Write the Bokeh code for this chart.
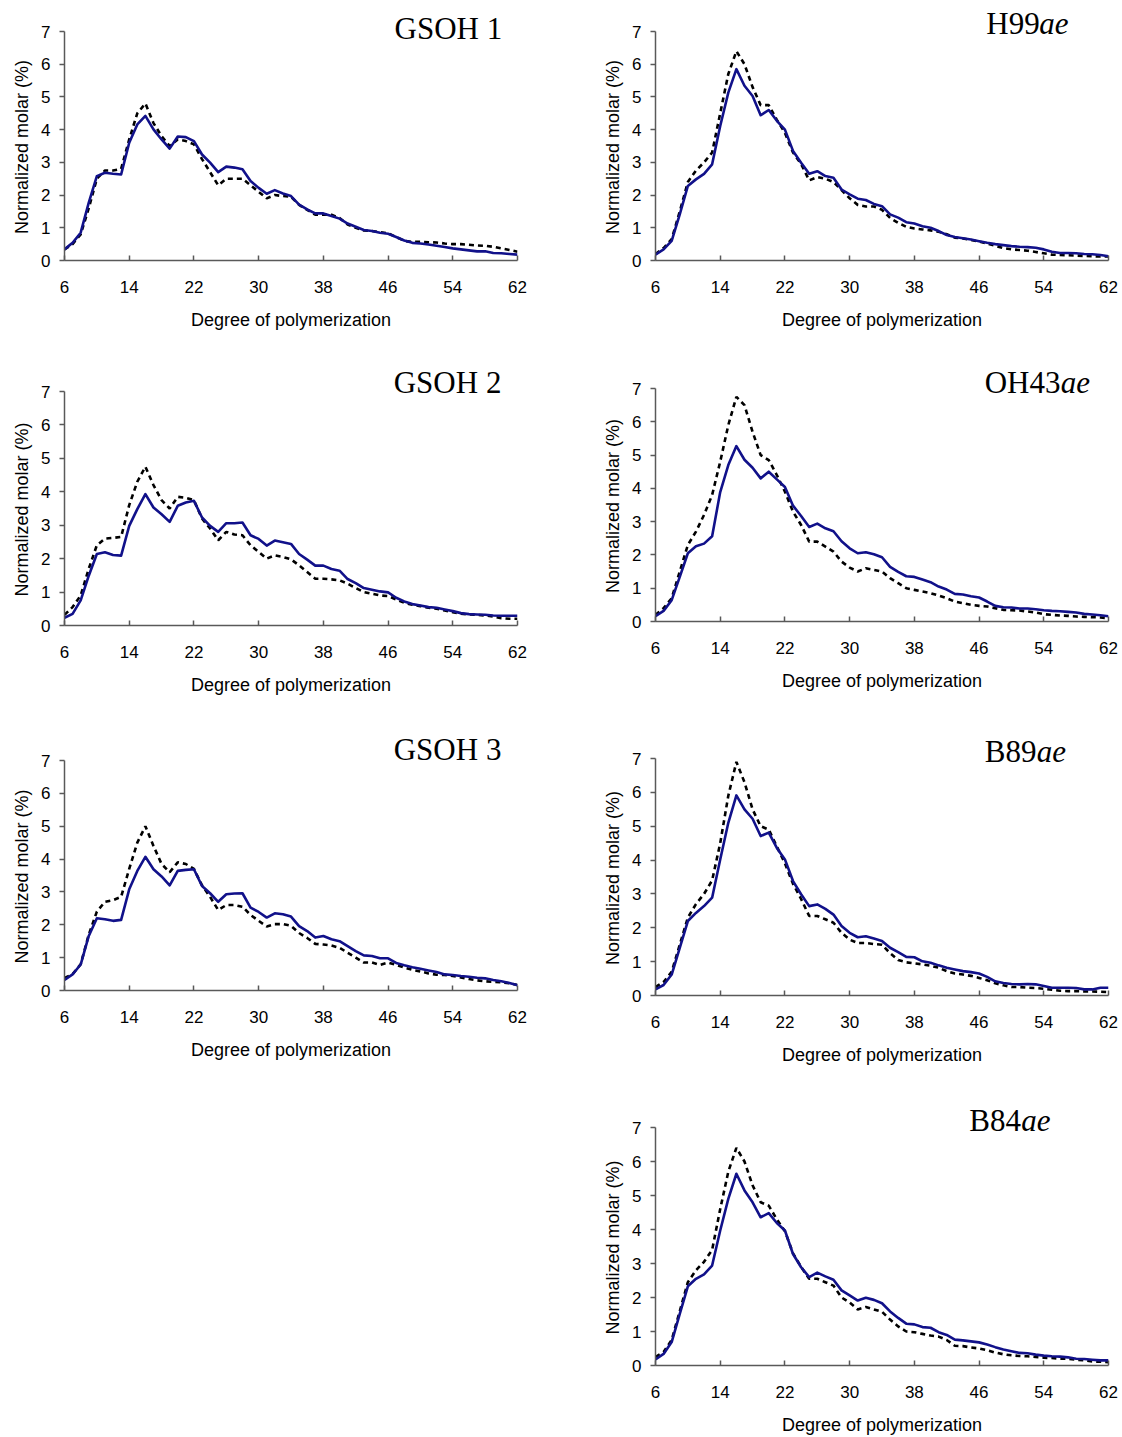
from bokeh.plotting import figure
from bokeh.layouts import column, row
from bokeh.models import Range1d, FixedTicker, Label, Spacer, Title
from bokeh.embed import file_html
from bokeh.resources import INLINE

# Degree of polymerization (DP 6 .. 62)
dp = list(range(6, 63))

# Normalized molar distribution (%) for each sample: solid = blue trace, dashed = black trace
gsoh1_solid = [0.34, 0.54, 0.85, 1.77, 2.58, 2.68, 2.65, 2.63, 3.60, 4.16, 4.42, 4.01, 3.70, 3.42, 3.79, 3.77,
               3.65, 3.24, 2.99, 2.70, 2.87, 2.84, 2.79, 2.43, 2.22, 2.04, 2.15, 2.05, 1.97, 1.71, 1.56, 1.44,
               1.44, 1.36, 1.28, 1.13, 1.03, 0.93, 0.90, 0.85, 0.82, 0.72, 0.61, 0.54, 0.52, 0.49, 0.45, 0.41,
               0.37, 0.34, 0.31, 0.28, 0.28, 0.23, 0.22, 0.20, 0.18]
gsoh1_dash = [0.34, 0.50, 0.80, 1.60, 2.50, 2.75, 2.75, 2.80, 3.70, 4.50, 4.80, 4.20, 3.80, 3.50, 3.70, 3.65,
              3.55, 3.10, 2.70, 2.30, 2.50, 2.50, 2.50, 2.30, 2.10, 1.90, 2.00, 1.97, 1.95, 1.70, 1.55, 1.40,
              1.40, 1.40, 1.30, 1.10, 1.00, 0.92, 0.90, 0.87, 0.83, 0.72, 0.60, 0.57, 0.57, 0.56, 0.55, 0.52,
              0.50, 0.50, 0.48, 0.46, 0.45, 0.42, 0.37, 0.32, 0.27]

gsoh2_solid = [0.23, 0.35, 0.75, 1.49, 2.14, 2.19, 2.11, 2.09, 2.98, 3.48, 3.93, 3.53, 3.33, 3.10, 3.58, 3.68,
               3.73, 3.23, 2.98, 2.80, 3.06, 3.06, 3.08, 2.70, 2.59, 2.39, 2.54, 2.49, 2.44, 2.14, 1.97, 1.79,
               1.79, 1.69, 1.64, 1.39, 1.27, 1.12, 1.07, 1.02, 0.99, 0.83, 0.72, 0.64, 0.60, 0.55, 0.53, 0.48,
               0.43, 0.37, 0.34, 0.33, 0.32, 0.30, 0.29, 0.29, 0.29]
gsoh2_dash = [0.32, 0.55, 0.90, 1.70, 2.40, 2.60, 2.62, 2.65, 3.60, 4.30, 4.75, 4.20, 3.75, 3.50, 3.85, 3.82,
              3.75, 3.20, 2.90, 2.55, 2.80, 2.72, 2.70, 2.40, 2.20, 2.00, 2.10, 2.05, 1.98, 1.80, 1.60, 1.40,
              1.40, 1.38, 1.35, 1.25, 1.12, 1.00, 0.95, 0.90, 0.88, 0.78, 0.68, 0.62, 0.58, 0.53, 0.50, 0.45,
              0.40, 0.35, 0.33, 0.32, 0.30, 0.27, 0.22, 0.20, 0.20]

gsoh3_solid = [0.32, 0.49, 0.79, 1.66, 2.20, 2.17, 2.12, 2.15, 3.08, 3.64, 4.07, 3.69, 3.47, 3.20, 3.64, 3.67,
               3.69, 3.18, 2.96, 2.70, 2.93, 2.95, 2.96, 2.52, 2.39, 2.22, 2.35, 2.32, 2.25, 1.96, 1.81, 1.61,
               1.66, 1.56, 1.50, 1.35, 1.20, 1.07, 1.05, 0.98, 0.98, 0.84, 0.77, 0.71, 0.66, 0.61, 0.56, 0.49,
               0.47, 0.44, 0.42, 0.39, 0.37, 0.32, 0.28, 0.23, 0.16]
gsoh3_dash = [0.38, 0.50, 0.80, 1.70, 2.40, 2.70, 2.75, 2.85, 3.70, 4.50, 5.00, 4.40, 3.85, 3.60, 3.90, 3.85,
              3.70, 3.20, 2.85, 2.45, 2.60, 2.60, 2.55, 2.30, 2.12, 1.95, 2.02, 2.02, 1.97, 1.75, 1.60, 1.42,
              1.40, 1.37, 1.30, 1.15, 1.00, 0.85, 0.85, 0.78, 0.85, 0.78, 0.70, 0.63, 0.58, 0.52, 0.48, 0.47,
              0.44, 0.40, 0.35, 0.31, 0.28, 0.26, 0.25, 0.22, 0.17]

h99_solid = [0.18, 0.34, 0.60, 1.41, 2.28, 2.48, 2.65, 2.94, 4.11, 5.13, 5.85, 5.34, 5.03, 4.44, 4.60, 4.27,
             4.00, 3.35, 2.99, 2.65, 2.73, 2.58, 2.53, 2.17, 2.02, 1.89, 1.85, 1.73, 1.66, 1.41, 1.31, 1.17,
             1.13, 1.05, 1.00, 0.90, 0.78, 0.72, 0.68, 0.64, 0.59, 0.54, 0.50, 0.47, 0.44, 0.42, 0.41, 0.39,
             0.34, 0.27, 0.23, 0.23, 0.22, 0.20, 0.19, 0.17, 0.13]
h99_dash = [0.20, 0.38, 0.65, 1.50, 2.40, 2.75, 3.00, 3.30, 4.50, 5.70, 6.40, 6.00, 5.30, 4.75, 4.75, 4.30,
            3.90, 3.30, 2.95, 2.45, 2.55, 2.50, 2.40, 2.15, 1.90, 1.70, 1.65, 1.65, 1.55, 1.30, 1.15, 1.03,
            0.98, 0.95, 0.92, 0.88, 0.80, 0.70, 0.67, 0.63, 0.58, 0.52, 0.45, 0.38, 0.34, 0.32, 0.30, 0.26,
            0.22, 0.18, 0.17, 0.16, 0.15, 0.14, 0.13, 0.12, 0.12]

oh43_solid = [0.16, 0.32, 0.64, 1.34, 2.05, 2.26, 2.34, 2.56, 3.89, 4.70, 5.27, 4.86, 4.62, 4.30, 4.50, 4.27,
              4.04, 3.48, 3.17, 2.84, 2.94, 2.80, 2.71, 2.41, 2.20, 2.05, 2.08, 2.02, 1.93, 1.64, 1.49, 1.36,
              1.34, 1.26, 1.18, 1.05, 0.96, 0.83, 0.81, 0.76, 0.72, 0.60, 0.47, 0.43, 0.42, 0.39, 0.39, 0.37,
              0.34, 0.32, 0.31, 0.29, 0.27, 0.23, 0.21, 0.19, 0.16]
oh43_dash = [0.20, 0.40, 0.70, 1.50, 2.30, 2.70, 3.20, 3.80, 4.80, 5.90, 6.75, 6.50, 5.70, 5.00, 4.85, 4.40,
             3.90, 3.30, 2.90, 2.40, 2.40, 2.25, 2.10, 1.80, 1.62, 1.50, 1.60, 1.55, 1.50, 1.30, 1.15, 1.00,
             0.95, 0.90, 0.85, 0.78, 0.70, 0.60, 0.55, 0.50, 0.47, 0.45, 0.40, 0.35, 0.34, 0.33, 0.30, 0.27,
             0.22, 0.20, 0.18, 0.17, 0.15, 0.14, 0.13, 0.12, 0.10]

b89_solid = [0.18, 0.31, 0.62, 1.41, 2.20, 2.44, 2.64, 2.89, 4.02, 5.10, 5.91, 5.50, 5.22, 4.71, 4.81, 4.36,
             4.02, 3.38, 2.99, 2.64, 2.69, 2.56, 2.39, 2.05, 1.85, 1.72, 1.75, 1.68, 1.61, 1.41, 1.28, 1.14,
             1.13, 1.01, 0.97, 0.89, 0.82, 0.77, 0.72, 0.69, 0.65, 0.55, 0.42, 0.37, 0.34, 0.33, 0.34, 0.33,
             0.28, 0.23, 0.23, 0.23, 0.22, 0.18, 0.18, 0.23, 0.23]
b89_dash = [0.25, 0.40, 0.70, 1.50, 2.30, 2.70, 3.00, 3.40, 4.50, 5.90, 6.90, 6.30, 5.50, 5.00, 4.90, 4.40,
            3.90, 3.30, 2.85, 2.35, 2.35, 2.25, 2.15, 1.85, 1.65, 1.55, 1.55, 1.52, 1.50, 1.25, 1.05, 0.98,
            0.95, 0.92, 0.88, 0.82, 0.72, 0.65, 0.62, 0.58, 0.52, 0.45, 0.36, 0.30, 0.25, 0.25, 0.23, 0.22,
            0.20, 0.17, 0.14, 0.13, 0.13, 0.12, 0.12, 0.11, 0.10]

b84_solid = [0.18, 0.34, 0.69, 1.52, 2.33, 2.55, 2.68, 2.94, 3.97, 4.90, 5.64, 5.15, 4.80, 4.36, 4.48, 4.19,
             3.97, 3.28, 2.89, 2.60, 2.73, 2.62, 2.52, 2.21, 2.06, 1.91, 1.99, 1.93, 1.83, 1.59, 1.40, 1.23,
             1.21, 1.13, 1.11, 0.98, 0.90, 0.76, 0.74, 0.71, 0.68, 0.62, 0.54, 0.47, 0.42, 0.37, 0.36, 0.32,
             0.29, 0.27, 0.26, 0.24, 0.20, 0.19, 0.17, 0.15, 0.15]
b84_dash = [0.25, 0.40, 0.75, 1.60, 2.45, 2.80, 3.05, 3.40, 4.60, 5.70, 6.40, 6.00, 5.30, 4.80, 4.70, 4.30,
            3.95, 3.30, 2.90, 2.55, 2.55, 2.45, 2.35, 2.00, 1.85, 1.65, 1.72, 1.65, 1.58, 1.35, 1.15, 1.00,
            0.98, 0.93, 0.88, 0.85, 0.75, 0.58, 0.57, 0.53, 0.50, 0.45, 0.38, 0.33, 0.30, 0.28, 0.27, 0.25,
            0.23, 0.22, 0.20, 0.20, 0.17, 0.15, 0.12, 0.11, 0.10]

x_ticks = [6, 14, 22, 30, 38, 46, 54, 62]
y_ticks = [0, 1, 2, 3, 4, 5, 6, 7]
Y_MAX = 7

BLUE = "#11118a"
AXIS = "#595959"
SANS = "Liberation Sans"
SERIF = "Liberation Serif"
TOP_PAD = 2
Y_LABEL = "Normalized molar (%)"
Y_LABEL_LEN = 176  # rendered length of the y label at 18px, in pixels


def panel(solid, dash, name, suffix, title_x, title_y, suffix_dx,
          left, top, frame_h, bottom, right):
    # The frame reaches up to the top of the figure so the sample name can sit
    # above the 7 % tick; the y axis line itself stops at 7.
    extra = top - TOP_PAD
    full_h = frame_h + extra
    y_end = Y_MAX * full_h / frame_h
    p = figure(frame_width=453, frame_height=full_h,
               min_border_left=left, min_border_right=right,
               min_border_top=TOP_PAD, min_border_bottom=bottom,
               x_range=Range1d(6, 62), y_range=Range1d(0, y_end),
               output_backend="svg", toolbar_location=None,
               background_fill_color="white", border_fill_color="white")
    p.outline_line_color = None
    p.xgrid.visible = False
    p.ygrid.visible = False

    p.line(dp, dash, line_color="black", line_width=2.6, line_dash="5 4")
    p.line(dp, solid, line_color=BLUE, line_width=2.6, line_join="round")

    xa = p.xaxis[0]
    xa.ticker = FixedTicker(ticks=x_ticks)
    xa.minor_tick_line_color = None
    xa.major_tick_in = 5
    xa.major_tick_out = 0
    xa.major_label_standoff = 20
    xa.axis_label = "Degree of polymerization"
    xa.axis_label_standoff = 14

    ya = p.yaxis[0]
    ya.ticker = FixedTicker(ticks=y_ticks)
    ya.bounds = (0, Y_MAX)
    ya.minor_tick_line_color = None
    ya.major_tick_in = 0
    ya.major_tick_out = 5
    ya.major_label_standoff = 9

    for ax in (xa, ya):
        ax.axis_line_color = AXIS
        ax.axis_line_width = 1.5
        ax.major_tick_line_color = AXIS
        ax.major_tick_line_width = 1.5
        ax.major_label_text_font = SANS
        ax.major_label_text_font_size = "17px"
        ax.major_label_text_color = "black"
        ax.axis_label_text_font = SANS
        ax.axis_label_text_font_size = "18px"
        ax.axis_label_text_font_style = "normal"
        ax.axis_label_text_color = "black"

    # y label centred on the 0-7 span of the axis
    p.add_layout(Title(text=Y_LABEL, align="left", offset=(frame_h - Y_LABEL_LEN) / 2,
                       standoff=14, text_font=SANS, text_font_size="18px",
                       text_font_style="normal", text_color="black"), "left")

    p.add_layout(Label(x=title_x, y=title_y, text=name, text_font=SERIF,
                       text_font_size="31px", text_color="black",
                       text_align="left", text_baseline="middle"))
    if suffix:
        p.add_layout(Label(x=title_x, y=title_y, x_offset=suffix_dx, text=suffix,
                           text_font=SERIF, text_font_size="31px",
                           text_font_style="italic", text_color="black",
                           text_align="left", text_baseline="middle"))
    return p


LEFT_L, LEFT_R = 64, 44
RIGHT_L, RIGHT_R = 94, 14

p1 = panel(gsoh1_solid, gsoh1_dash, "GSOH 1", "", 46.8, 7.09, 0, LEFT_L, 31, 229, 90, LEFT_R)
p2 = panel(h99_solid, h99_dash, "H99", "ae", 46.9, 7.25, 53, RIGHT_L, 31, 229, 90, RIGHT_R)
p3 = panel(gsoh2_solid, gsoh2_dash, "GSOH 2", "", 46.7, 7.27, 0, LEFT_L, 41, 234, 95, LEFT_R)
p4 = panel(oh43_solid, oh43_dash, "OH43", "ae", 46.7, 7.18, 76, RIGHT_L, 38, 233, 99, RIGHT_R)
p5 = panel(gsoh3_solid, gsoh3_dash, "GSOH 3", "", 46.7, 7.33, 0, LEFT_L, 40, 230, 100, LEFT_R)
p6 = panel(b89_solid, b89_dash, "B89", "ae", 46.7, 7.21, 52, RIGHT_L, 38, 237, 95, RIGHT_R)
p7 = panel(b84_solid, b84_dash, "B84", "ae", 44.8, 7.21, 52, RIGHT_L, 37, 238, 72, RIGHT_R)

layout = column(
    row(p1, p2, spacing=0),
    row(p3, p4, spacing=0),
    row(p5, p6, spacing=0),
    row(Spacer(width=561, height=347), p7, spacing=0),
    spacing=0,
)

open("out.html", "w").write(file_html(layout, INLINE))
